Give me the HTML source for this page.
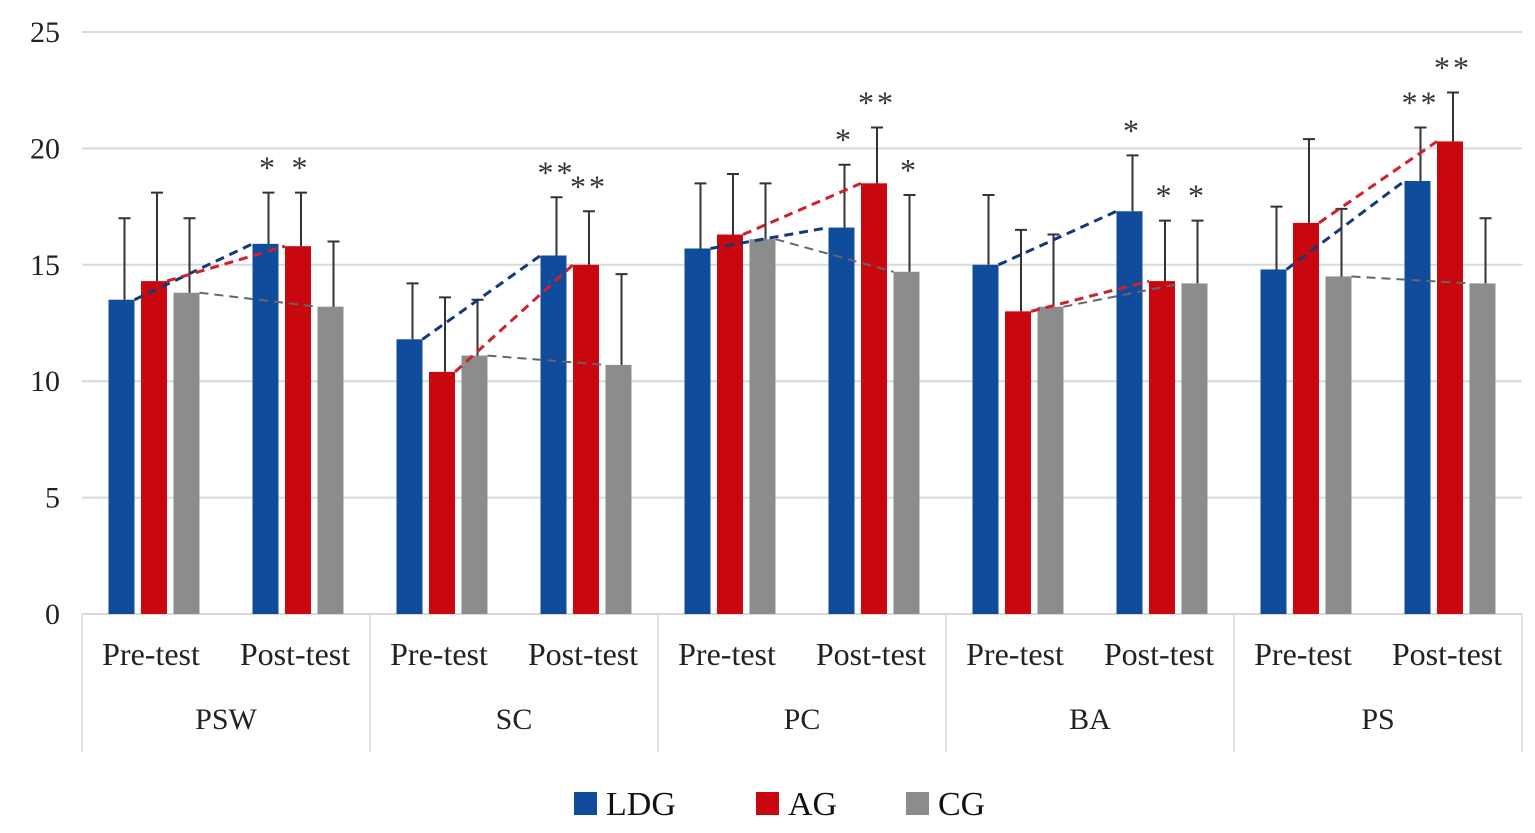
<!DOCTYPE html>
<html><head><meta charset="utf-8"><style>
html,body{margin:0;padding:0;background:#fff;}
svg{display:block;font-family:"Liberation Serif",serif;}
</style></head><body>
<svg id="chart" width="1535" height="833" viewBox="0 0 1535 833" xmlns="http://www.w3.org/2000/svg"></svg>
<script>
const groups = ["PSW","SC","PC","BA","PS"];
const phases = ["Pre-test","Post-test"];
const series = ["LDG","AG","CG"];
const colors = ["#0f4c9b","#c8080e","#8c8c8c"];
// values [group][phase]
const ldg = [[13.5,15.9],[11.8,15.4],[15.7,16.6],[15.0,17.3],[14.8,18.6]];
const ag  = [[14.3,15.8],[10.4,15.0],[16.3,18.5],[13.0,14.3],[16.8,20.3]];
const cg  = [[13.8,13.2],[11.1,10.7],[16.1,14.7],[13.2,14.2],[14.5,14.2]];
const ldgErr = [[17.0,18.1],[14.2,17.9],[18.5,19.3],[18.0,19.7],[17.5,20.9]];
const agErr  = [[18.1,18.1],[13.6,17.3],[18.9,20.9],[16.5,16.9],[20.4,22.4]];
const cgErr  = [[17.0,16.0],[13.5,14.6],[18.5,18.0],[16.3,16.9],[17.4,17.0]];
const postSig = [["*","*",""],["**","**",""],["*","**","*"],["*","*","*"],["**","**",""]];
const yTicks = [0,5,10,15,20,25];

const vals=[ldg,ag,cg], errs=[ldgErr,agErr,cgErr];
const svg=document.getElementById('chart');
const NS="http://www.w3.org/2000/svg";
const x0=82, x1=1522, y0=614, yTop=32, yMax=25;
const yS=v=>y0-(y0-yTop)*v/yMax;
const gW=(x1-x0)/groups.length, pW=gW/2, bw=26, off=32.5;
const barX=(g,p,s)=>x0+g*gW+p*pW+pW/2+(s-1)*off;
function el(t,a,txt){const e=document.createElementNS(NS,t);for(const k in a)e.setAttribute(k,a[k]);if(txt!==undefined)e.textContent=txt;svg.appendChild(e);return e;}

yTicks.forEach(t=>{
  const l=el('line',{x1:x0,x2:x1,y1:yS(t),y2:yS(t),stroke:'#d9d9d9','stroke-width':2});
  
  
  const tx=el('text',{x:60,y:yS(t)+10,'text-anchor':'end','font-size':30,fill:'#222'},String(t));
  
  
});
for(let g=0;g<=groups.length;g++){
  const l=el('line',{x1:x0+g*gW,x2:x0+g*gW,y1:y0,y2:752,stroke:'#d9d9d9','stroke-width':1.5});
  
  
}
groups.forEach((gn,g)=>{
  phases.forEach((pn,p)=>{
    const t=el('text',{x:x0+g*gW+p*pW+pW/2-3,y:665,'text-anchor':'middle','font-size':32,fill:'#222'},pn);
    
    
    series.forEach((sn,s)=>{
      const v=vals[s][g][p], e=errs[s][g][p], cx=barX(g,p,s);
      const r=el('rect',{x:cx-bw/2,y:yS(v),width:bw,height:y0-yS(v),fill:colors[s]});
      
      
      const ex=cx+3;
      const eb=el('path',{d:`M${ex} ${yS(v)}V${yS(e)}M${ex-6} ${yS(e)}H${ex+6}`,stroke:'#333','stroke-width':2,fill:'none'});
      
      
      if(p===1 && postSig[g][s]){
        const a=el('text',{x:cx+3,y:yS(e)-14,'text-anchor':'middle','font-size':32,fill:'#333','letter-spacing':3},postSig[g][s]);
        
        
      }
    });
  });
  series.forEach((sn,s)=>{
    const xa=barX(g,0,s)+bw/2, xb=barX(g,1,s)-bw/2;
    const tl=el('line',{x1:xa,y1:yS(vals[s][g][0]),x2:xb,y2:yS(vals[s][g][1]),stroke:s===0?'#123a7a':(s===1?'#d0202a':'#666'),'stroke-width':s===2?2:3,'stroke-dasharray':'9,6'});
    
    
  });
  const gt=el('text',{x:x0+g*gW+gW/2,y:729,'text-anchor':'middle','font-size':30,fill:'#222'},gn);
  
  
});
const legX=[574,756,906];
series.forEach((sn,s)=>{
  const r=el('rect',{x:legX[s],y:792,width:23,height:23,fill:colors[s]});
  
  
  const t=el('text',{x:legX[s]+32,y:815,'font-size':34,fill:'#111'},sn);
  
  
});
</script>
</body></html>
